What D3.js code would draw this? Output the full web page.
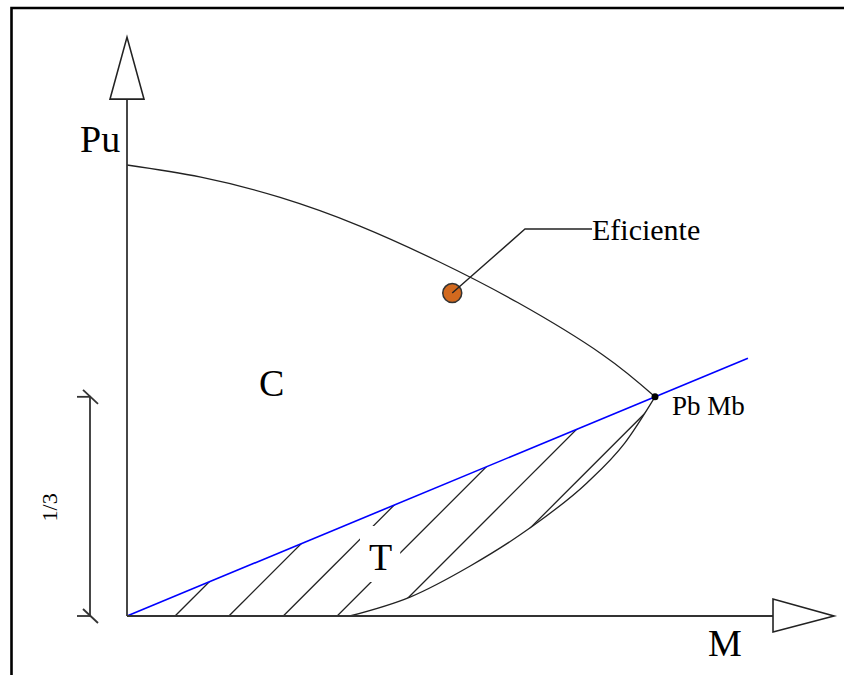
<!DOCTYPE html>
<html>
<head>
<meta charset="utf-8">
<script src="https://cdn.jsdelivr.net/npm/d3@7"></script>
<style>
  html, body { margin: 0; padding: 0; background: #fff; overflow: hidden; }
  svg { display: block; }
  text { font-family: "Liberation Serif", "Times New Roman", serif; fill: #000; }
</style>
</head>
<body>
<svg id="chart" width="844" height="675"></svg>
<script>
// Interaction diagram, normalised so that Mb = 1 and Pu = 1.
// Compression-controlled capacity curve (Pu down to the balanced point Pb-Mb)
const capacityM = [0, 0.14, 0.29, 0.44, 0.59, 0.74, 0.90, 1.0];
const capacityP = [1.0, 0.973, 0.928, 0.865, 0.786, 0.695, 0.58, 0.486];

// Tension-controlled curve, from the M axis up to the balanced point
const tensionM = [0.422, 0.536, 0.65, 0.763, 0.871, 0.943, 1.0];
const tensionP = [0, 0.042, 0.111, 0.195, 0.295, 0.384, 0.486];

// Balanced point and the radial line through it
const balancedM = [1.0];
const balancedP = [0.486];
const balancedLineEndM = 1.176;

// Where each hatch stroke of the tension zone meets the M axis
const hatchStarts = [0.091, 0.193, 0.296, 0.398, 0.498, 0.597];

// The "efficient" design point
const efficientM = [0.616];
const efficientP = [0.716];

// Axis extents (arrow bases)
const axisEndM = 1.2235;
const axisEndP = 1.146;

const svg = d3.select("#chart");
const W = 844, H = 675;

const x = d3.scaleLinear().domain([0, 1]).range([127, 655]);
const y = d3.scaleLinear().domain([0, 1]).range([616, 165]);

const ink = "#222";

const lineGen = curve => d3.line().x(d => x(d[0])).y(d => y(d[1])).curve(curve);
const tensionGen = lineGen(d3.curveMonotoneX);
const capacityGen = lineGen(d3.curveNatural);

// Tension zone: between the balanced line and the lower boundary
const tensionPts = tensionM.map((m, i) => [m, tensionP[i]]);
const regionPath = () => {
  const tens = tensionGen(tensionPts);
  return `M${x(0)},${y(0) + 3} L${x(tensionM[0])},${y(0) + 3} L${x(tensionM[0])},${y(0)} ` +
    tens.replace(/^M[^CL]*/, "") + ` L${x(0)},${y(0)} Z`;
};

svg.append("defs").append("clipPath").attr("id", "tensionZone")
  .append("path").attr("d", regionPath());

// Hatch strokes at 45 degrees, clipped to the tension zone
const hatch = svg.append("g").attr("clip-path", "url(#tensionZone)");
hatchStarts.forEach(m => {
  const x0 = x(m), y0 = y(0), len = 320;
  hatch.append("line")
    .attr("x1", x0).attr("y1", y0)
    .attr("x2", x0 + len).attr("y2", y0 - len)
    .attr("stroke", ink).attr("stroke-width", 1.3);
});

// Label T sits on a clear patch in the hatching
const tLabel = svg.append("text").attr("x", 369).attr("y", 570)
  .attr("font-size", 38).text("T");
const tb = tLabel.node().getBBox();
svg.insert("rect", "text")
  .attr("x", tb.x - 9).attr("y", tb.y - 10)
  .attr("width", tb.width + 17).attr("height", tb.height + 14)
  .attr("fill", "#fff");

// Tension-controlled curve
svg.append("path").attr("d", tensionGen(tensionPts))
  .attr("fill", "none").attr("stroke", ink).attr("stroke-width", 1.3);

// Compression capacity curve
const capacityPts = capacityM.map((m, i) => [m, capacityP[i]]);
svg.append("path").attr("d", capacityGen(capacityPts))
  .attr("fill", "none").attr("stroke", ink).attr("stroke-width", 1.3);

// Balanced radial line
const slope = balancedP[0] / balancedM[0];
svg.append("line")
  .attr("x1", x(0)).attr("y1", y(0))
  .attr("x2", x(balancedLineEndM)).attr("y2", y(balancedLineEndM * slope))
  .attr("stroke", "#0000ff").attr("stroke-width", 1.6);

// Axes with hollow arrow heads
const axisStroke = "#333";
svg.append("line")
  .attr("x1", x(0)).attr("y1", y(0)).attr("x2", x(0)).attr("y2", y(axisEndP))
  .attr("stroke", axisStroke).attr("stroke-width", 1.8);
svg.append("line")
  .attr("x1", x(0)).attr("y1", y(0)).attr("x2", x(axisEndM)).attr("y2", y(0))
  .attr("stroke", axisStroke).attr("stroke-width", 1.8);

const vx = x(0), vy = y(axisEndP);
svg.append("path")
  .attr("d", `M${vx - 17},${vy} L${vx + 17},${vy} L${vx},${vy - 62} Z`)
  .attr("fill", "#fff").attr("stroke", ink).attr("stroke-width", 1.6);
const hx = x(axisEndM), hy = y(0);
svg.append("path")
  .attr("d", `M${hx},${hy - 17} L${hx},${hy + 16} L${hx + 61},${hy} Z`)
  .attr("fill", "#fff").attr("stroke", ink).attr("stroke-width", 1.6);

// Dimension line spanning 0 .. Pb
const dimX = 90;
const dimTop = y(balancedP[0]), dimBot = y(0);
const dim = svg.append("g").attr("stroke", axisStroke).attr("stroke-width", 1.8);
dim.append("line").attr("x1", dimX).attr("y1", dimTop).attr("x2", dimX).attr("y2", dimBot);
[dimTop, dimBot].forEach(yy => {
  dim.append("line").attr("x1", dimX - 13).attr("y1", yy).attr("x2", dimX + 1).attr("y2", yy);
  dim.append("line").attr("x1", dimX - 7).attr("y1", yy - 7).attr("x2", dimX + 8).attr("y2", yy + 7);
});
svg.append("text")
  .attr("transform", `translate(57,${(dimTop + dimBot) / 2 + 1}) rotate(-90)`)
  .attr("text-anchor", "middle").attr("font-size", 22).text("1/3");

// Efficient point with leader and label
const ex = x(efficientM[0]), ey = y(efficientP[0]);
svg.append("circle").attr("cx", ex).attr("cy", ey).attr("r", 9.5)
  .attr("fill", "#d2691e").attr("stroke", "#333").attr("stroke-width", 1.5);
svg.append("path")
  .attr("d", `M${ex},${ey} L525,229 L592,229`)
  .attr("fill", "none").attr("stroke", ink).attr("stroke-width", 1.4);
svg.append("text").attr("x", 592).attr("y", 240).attr("font-size", 30).text("Eficiente");

// Balanced point marker
svg.append("circle").attr("cx", x(balancedM[0])).attr("cy", y(balancedP[0])).attr("r", 3.5).attr("fill", "#000");
svg.append("text").attr("x", 672).attr("y", 415).attr("font-size", 27).text("Pb Mb");

// Axis and zone labels
svg.append("text").attr("x", 80).attr("y", 152).attr("font-size", 38).text("Pu");
svg.append("text").attr("x", 708).attr("y", 656).attr("font-size", 38).text("M");
svg.append("text").attr("x", 259).attr("y", 396).attr("font-size", 38).text("C");

// Frame (top and left edges)
svg.append("path")
  .attr("d", `M11.5,${H} V8 H${W}`)
  .attr("fill", "none").attr("stroke", "#000").attr("stroke-width", 2.6);
</script>
</body>
</html>
